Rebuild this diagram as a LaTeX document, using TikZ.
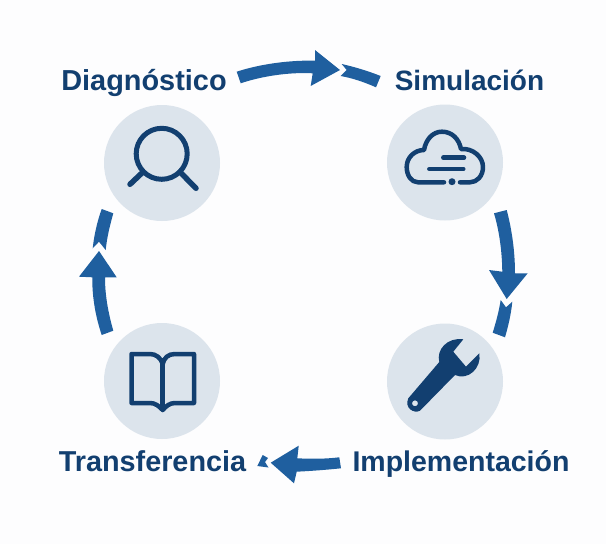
\documentclass[tikz,border=0pt]{standalone}
\usepackage{fontspec}
\setmainfont{Liberation Sans}
\definecolor{arrowblue}{HTML}{1F5F9F}
\definecolor{navy}{HTML}{123F70}
\definecolor{disc}{HTML}{DCE4EC}
\definecolor{paper}{HTML}{FDFDFE}
\tikzset{
  label text/.style={text=navy,font=\fontsize{#1}{30}\selectfont\bfseries,anchor=base,inner sep=0pt},
  icon disc/.style={circle,fill=disc,minimum size=116pt,inner sep=0pt},
  arrow shape/.style={fill=arrowblue,draw=none},
  icon line/.style={draw=navy,line cap=round,line join=round,line width=#1},
  icon line/.default=5pt
}
\begin{document}
\begin{tikzpicture}[x=1pt,y=-1pt]
\useasboundingbox (0,0) rectangle (606,544);
\fill[paper] (0,0) rectangle (606,544);
% discs
\node[icon disc] (search) at (162,163) {};
\node[icon disc] (cloud) at (445,162.5) {};
\node[icon disc] (wrench) at (445,381.5) {};
\node[icon disc] (book) at (162,381) {};
% labels
\node[label text=28.9] (diag) at (144,90) {Diagnóstico};
\node[label text=28] (simu) at (469.5,90) {Simulación};
\node[label text=28.5] (impl) at (461,471) {Implementación};
\node[label text=28.8] (tran) at (152.5,471) {Transferencia};
% arrow 1
\path[arrow shape] (236.7,71.7) .. controls (260,64) and (290,60) .. (315,60.7) -- (315,50) -- (340,70) -- (310.7,86) -- (312.7,73.3) .. controls (290,72) and (262,76) .. (240.7,83.3) -- cycle;
\path[arrow shape] (341.7,64) .. controls (355,67) and (368,71) .. (380.7,76) -- (376,87.3) .. controls (364,82) and (352,78) .. (340.7,76) -- (346.7,70) -- cycle;
% arrow 2
\path[arrow shape] (506.7,210) .. controls (512,230) and (515,252) .. (515,273.3) -- (527.7,273.3) -- (506.7,299) -- (489,270) -- (502.3,271.7) .. controls (502,250) and (499,230) .. (494,213.3) -- cycle;
\path[arrow shape] (500.7,300) -- (506,307.3) -- (512.3,301.7) .. controls (511,315) and (508,327) .. (505,337.3) -- (492.7,332.7) .. controls (496,322) and (499,311) .. (500.7,300) -- cycle;
% arrow 3
\path[arrow shape] (341,468.3) .. controls (325,470) and (310,471) .. (296.7,471.7) -- (294,483.3) -- (270.7,462.7) -- (298.7,445.7) -- (297.3,458.3) .. controls (312,459) and (325,459) .. (339.3,457.3) -- cycle;
\path[arrow shape] (262.7,455) -- (268,458) -- (265,462) -- (268.5,467.5) -- (257.3,466) -- cycle;
% arrow 4
\path[arrow shape] (113.3,330.7) .. controls (108,312) and (105,295) .. (105,277.3) -- (116.7,277.3) -- (99,251) -- (79,276.7) -- (92.3,277.3) .. controls (92,298) and (96,318) .. (101.7,335) -- cycle;
\path[arrow shape] (92.7,248.3) -- (99,241.7) -- (105.7,250) .. controls (107,237) and (110,225) .. (113.3,213.3) -- (101.7,209) .. controls (97,222) and (94,236) .. (92.7,248.3) -- cycle;
% magnifier
\draw[icon line=5pt] (161.7,153.8) circle (25.5);
\draw[icon line=5.5pt] (130,184.3) -- (143,172);
\draw[icon line=5.5pt] (196,188.3) -- (180,172);
% cloud
\draw[icon line=4.5pt] (444,182.3) -- (418,182.3) .. controls (411,182.3) and (406.7,175) .. (406.7,167) .. controls (406.7,157) and (415,150) .. (424,150) .. controls (426,139) and (433,131.7) .. (442,131.7) .. controls (452,131.7) and (459,139) .. (461,149) .. controls (473,148) and (483,157) .. (483,167) .. controls (483,176) and (477,182.3) .. (470,182.3) -- (460,182.3);
\fill[navy] (452,181.7) circle (3.5);
\draw[icon line=4.5pt] (443.3,157.7) -- (464,157.7);
\draw[icon line=4.5pt] (429.3,169) -- (463.3,169);
% wrench
\path[fill=navy,even odd rule] (408.3,398.3) -- (439.3,362) .. controls (436,350) and (447,337) .. (463.3,339.3) -- (453.3,351.7) -- (466,366.7) -- (479.3,353.3) .. controls (482,368) and (468,381) .. (455,375) -- (420,410.7) .. controls (414,414) and (404,408) .. (408.3,398.3) -- cycle (415,403.3) circle (3);
% book
\draw[icon line=4.5pt] (131.5,354) -- (150,354) .. controls (156,354) and (161,358) .. (162.7,364) .. controls (164,358) and (168,354) .. (175,354) -- (194,354) -- (194,403) -- (175,403) .. controls (170,403) and (166,406) .. (162.7,410) .. controls (159,406) and (155,403) .. (150,403) -- (131.5,403) -- cycle;
\draw[icon line=4.5pt] (162.7,364) -- (162.7,408);
\end{tikzpicture}
\end{document}
